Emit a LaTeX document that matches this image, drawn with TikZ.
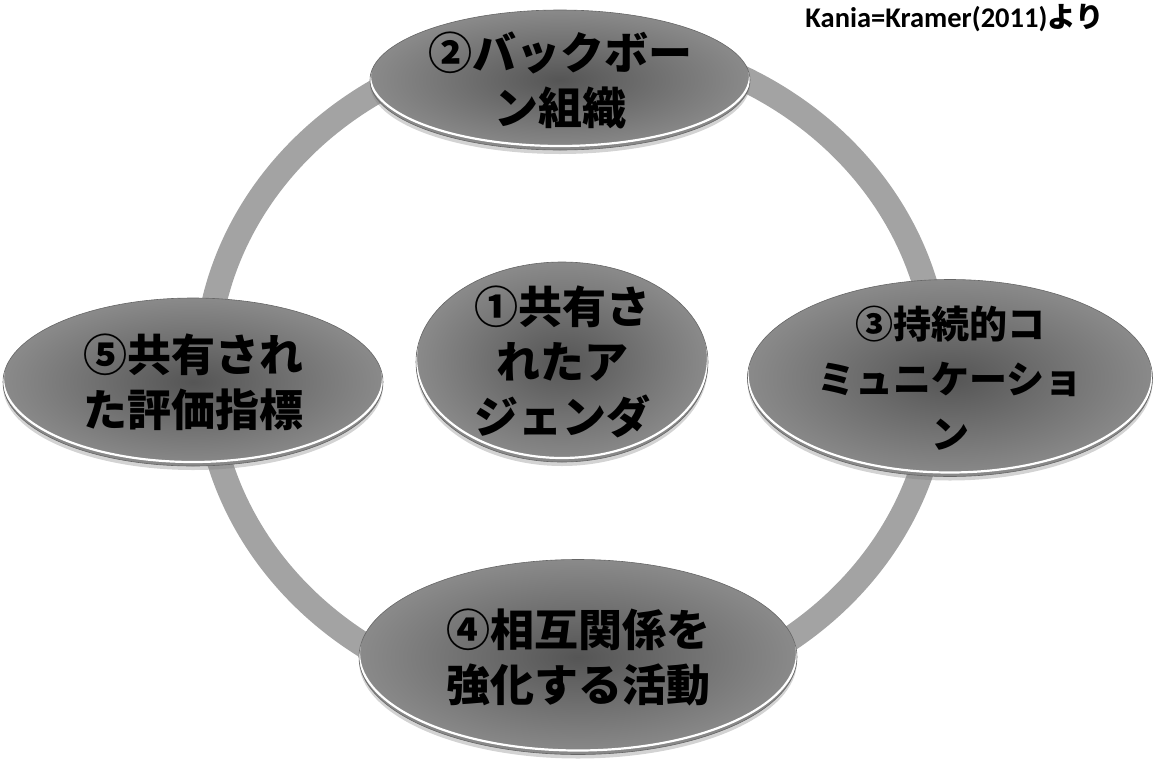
\documentclass[tikz,border=0pt]{standalone}
\usepackage{fontspec}
\usepackage{tikz}
\usetikzlibrary{shapes.geometric,shadows}
\newfontfamily\jpfont{Noto Sans CJK JP}
\newfontfamily\srcfont{Carlito}
\definecolor{ringgray}{HTML}{A3A3A3}
\definecolor{blobdark}{HTML}{555555}
\definecolor{bloblight}{HTML}{8A8A8A}

\begin{document}
\begin{tikzpicture}[
        x=1pt, y=-1pt,
        blobstyle/.style={ellipse, draw=black!60, line width=0.6pt, inner sep=-15pt,
          inner color=blobdark, outer color=bloblight, align=center, text=black,
          font=\jpfont\bfseries\fontsize{44}{55}\selectfont,
          drop shadow={shadow xshift=0pt, shadow yshift=-4pt, opacity=0.35},
          path picture={
            \path (path picture bounding box.south west); \pgfgetlastxy{\blobxa}{\blobya};
            \path (path picture bounding box.north east); \pgfgetlastxy{\blobxb}{\blobyb};
            \draw[white, line width=2.2pt] ([yshift=4pt]path picture bounding box.center)
              ellipse [x radius={(\blobxb-\blobxa)/2}, y radius={(\blobyb-\blobya)/2}];
          }},
        ringstyle/.style={ellipse, draw=ringgray, line width=25pt},
        srcstyle/.style={font=\srcfont\bfseries\fontsize{28.5}{30}\selectfont}
      ]
        \useasboundingbox (0,0) rectangle (1154,761);

        % ring behind the five ellipses
        \node[ringstyle, minimum width=732pt, minimum height=664pt] (RING) at (572,372) {};

        \node[blobstyle, minimum width=380pt, minimum height=140pt] (BACKBONE) at (560,80)
          {②バックボー\\ン組織};
        \node[blobstyle, minimum width=292pt, minimum height=200pt] (AGENDA) at (562,362)
          {①共有さ\\れたア\\ジェンダ};
        \node[blobstyle, minimum width=405pt, minimum height=197pt,
          font=\jpfont\bfseries\fontsize{38}{55}\selectfont] (COMM) at (950,378)
          {③持続的コ\\ミュニケーショ\\ン};
        \node[blobstyle, minimum width=438pt, minimum height=195pt] (ACTIVITY) at (578,657)
          {④相互関係を\\強化する活動};
        \node[blobstyle, minimum width=380pt, minimum height=168pt] (METRICS) at (193,382)
          {⑤共有され\\た評価指標};
        \node[srcstyle, anchor=north east, inner sep=0pt] (SOURCE) at (1104,4)
          {Kania=Kramer(2011){\jpfont\bfseries より}};
      \end{tikzpicture}
\end{document}
